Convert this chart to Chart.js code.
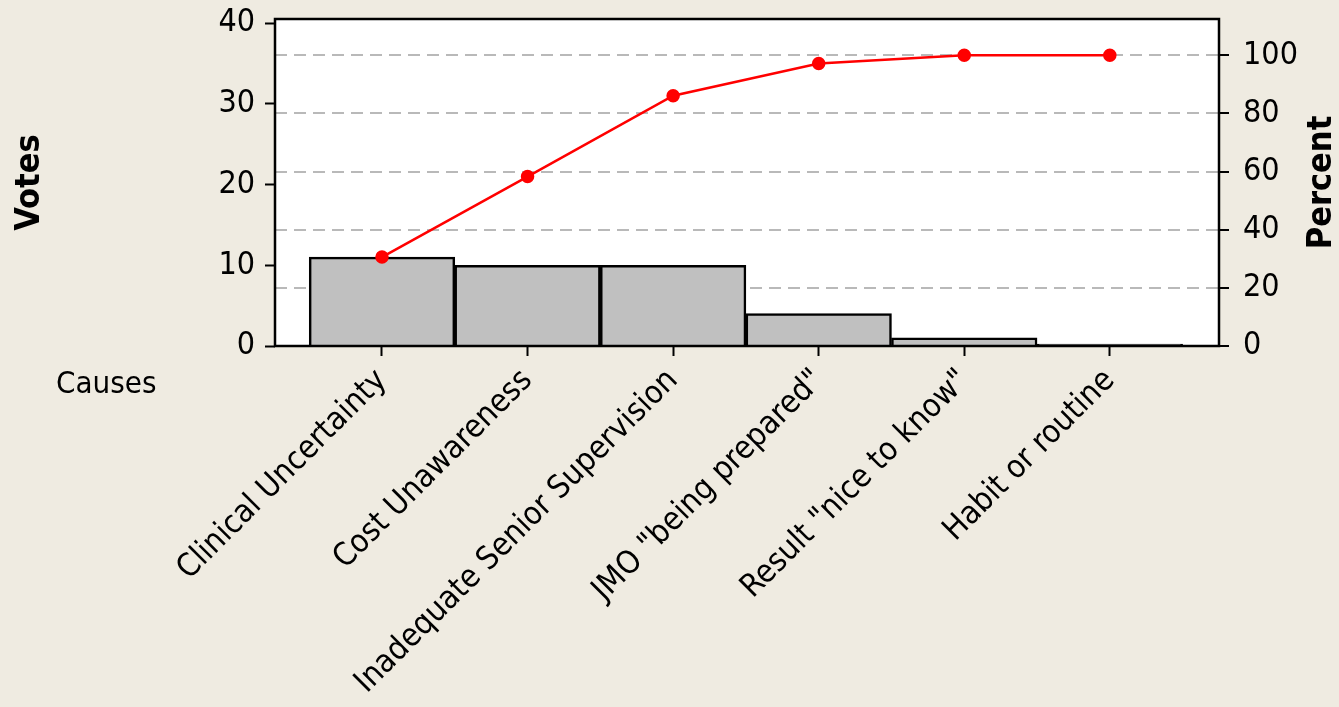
<!DOCTYPE html>
<html>
<head>
<meta charset="utf-8">
<script src="https://cdn.jsdelivr.net/npm/chart.js@4"></script>
<style>
  html, body { margin: 0; padding: 0; background: #efebe1; }
  canvas { display: block; }
</style>
</head>
<body>
<canvas id="paretoChart" width="1339" height="707"></canvas>
<script>
const causes = [
  "Clinical Uncertainty",
  "Cost Unawareness",
  "Inadequate Senior Supervision",
  'JMO "being prepared"',
  'Result "nice to know"',
  "Habit or routine",
];
const votes = [11, 10, 10, 4, 1, 0];
const cumulativePercent = [30.6, 58.3, 86.1, 97.2, 100, 100];
const voteTicks = [0, 10, 20, 30, 40];
const percentTicks = [0, 20, 40, 60, 80, 100];

const FONT = '"DejaVu Sans Condensed", "DejaVu Sans", sans-serif';

const frame = {
  id: "frame",
  beforeDraw(chart) {
    const { ctx, chartArea: a } = chart;
    ctx.save();
    ctx.fillStyle = "#efebe1";
    ctx.fillRect(0, 0, chart.width, chart.height);
    ctx.fillStyle = "#ffffff";
    ctx.fillRect(a.left, a.top, a.right - a.left, a.bottom - a.top);
    ctx.restore();
  },
  afterDraw(chart) {
    const { ctx, chartArea: a } = chart;
    ctx.save();
    ctx.strokeStyle = "#000";
    ctx.lineWidth = 2.5;
    ctx.strokeRect(a.left, a.top, a.right - a.left, a.bottom - a.top);

    ctx.fillStyle = "#000";
    ctx.textAlign = "center";
    ctx.textBaseline = "middle";
    ctx.font = "bold 34px " + FONT;
    const midY = (a.top + a.bottom) / 2;
    ctx.save();
    ctx.translate(30, midY);
    ctx.rotate(-Math.PI / 2);
    ctx.fillText("Votes", 0, 0);
    ctx.restore();
    ctx.save();
    ctx.translate(1322, midY);
    ctx.rotate(-Math.PI / 2);
    ctx.fillText("Percent", 0, 0);
    ctx.restore();

    ctx.font = "31px " + FONT;
    ctx.textAlign = "left";
    ctx.textBaseline = "alphabetic";
    ctx.fillText("Causes", 56, 393);
    ctx.restore();
  },
};

function noPadding(axis) {
  axis.paddingTop = 0;
  axis.paddingBottom = 0;
  axis.paddingLeft = 0;
  axis.paddingRight = 0;
}

new Chart(document.getElementById("paretoChart"), {
  type: "bar",
  data: {
    datasets: [
      {
        type: "line",
        label: "Cumulative %",
        data: cumulativePercent.map((v, i) => ({ x: i, y: v })),
        yAxisID: "y2",
        borderColor: "#ff0000",
        backgroundColor: "#ff0000",
        borderWidth: 2.5,
        pointRadius: 5.5,
        pointBackgroundColor: "#ff0000",
        pointBorderColor: "#ff0000",
        tension: 0,
        order: 0,
      },
      {
        label: "Votes",
        data: votes.map((v, i) => ({ x: i, y: v })),
        yAxisID: "y",
        backgroundColor: "#c0c0c0",
        borderColor: "#000",
        borderWidth: 2.5,
        barPercentage: 1,
        categoryPercentage: 1,
        minBarLength: 2,
        order: 1,
      },
    ],
  },
  options: {
    responsive: false,
    animation: false,
    devicePixelRatio: 1,
    layout: { padding: { top: 19, left: 0, right: 0, bottom: 0 } },
    plugins: {
      legend: { display: false },
      tooltip: { enabled: false },
    },
    scales: {
      x: {
        type: "linear",
        min: -0.735,
        max: 5.75,
        offset: false,
        afterBuildTicks: (axis) => {
          axis.ticks = causes.map((c, i) => ({ value: i }));
        },
        afterFit: (axis) => {
          axis.height = 361;
          noPadding(axis);
        },
        ticks: {
          autoSkip: false,
          minRotation: 45,
          maxRotation: 45,
          padding: 6,
          color: "#000",
          font: { family: FONT, size: 32 },
          callback: (value) => causes[value],
        },
        grid: {
          offset: false,
          drawOnChartArea: false,
          drawTicks: true,
          tickLength: 10,
          tickColor: "#000",
          tickWidth: 2,
        },
        border: { display: false },
      },
      y: {
        position: "left",
        min: 0,
        max: 40.5,
        afterBuildTicks: (axis) => {
          axis.ticks = voteTicks.map((v) => ({ value: v }));
        },
        afterFit: (axis) => {
          axis.width = 275;
          noPadding(axis);
        },
        ticks: {
          padding: 10,
          color: "#000",
          font: { family: FONT, size: 32 },
        },
        grid: {
          drawOnChartArea: false,
          drawTicks: true,
          tickLength: 10,
          tickColor: "#000",
          tickWidth: 2,
        },
        border: { display: false },
      },
      y2: {
        position: "right",
        min: 0,
        max: 112.5,
        afterBuildTicks: (axis) => {
          axis.ticks = percentTicks.map((v) => ({ value: v }));
        },
        afterFit: (axis) => {
          axis.width = 120;
          noPadding(axis);
        },
        ticks: {
          padding: 14,
          color: "#000",
          font: { family: FONT, size: 32 },
        },
        grid: {
          drawOnChartArea: true,
          color: "#b9b9b9",
          lineWidth: 2,
          tickBorderDash: [],
          tickLength: 10,
          tickColor: "#000",
          tickWidth: 2,
        },
        border: { display: false, dash: [12, 7] },
      },
    },
  },
  plugins: [frame],
});
</script>
</body>
</html>
